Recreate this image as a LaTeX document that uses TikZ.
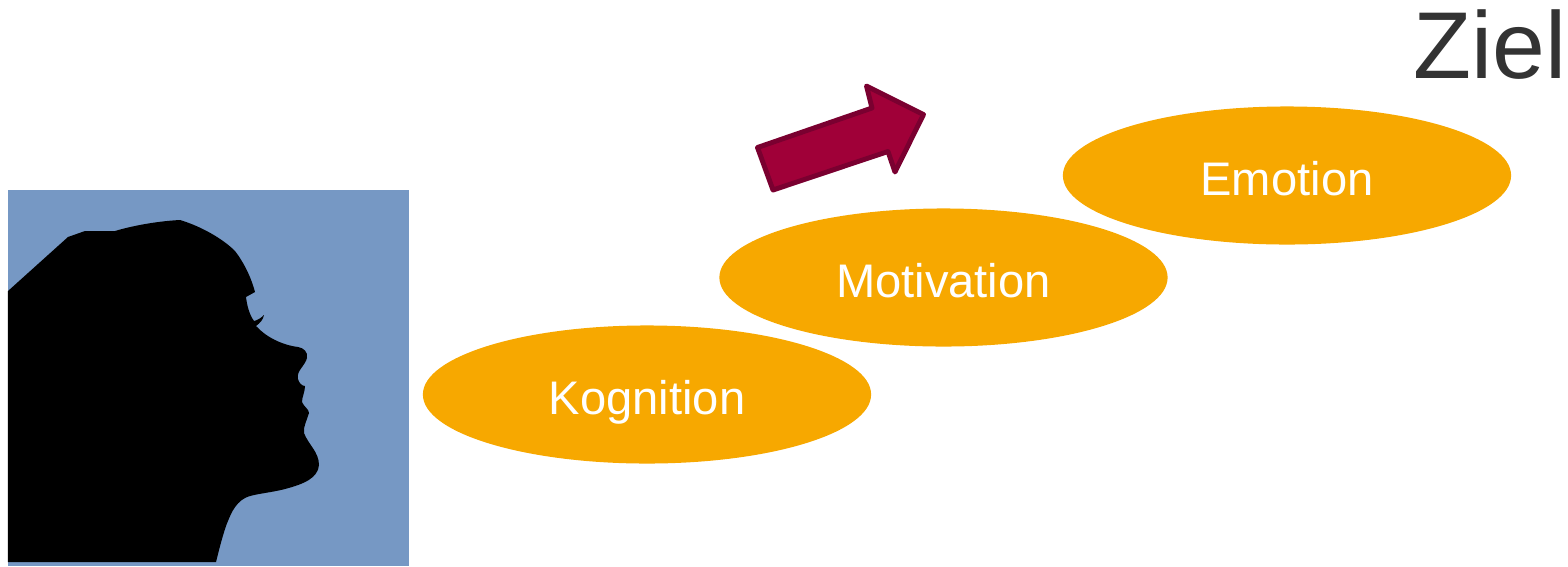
\documentclass[tikz,border=0pt]{standalone}
\usepackage{fontspec}
\usepackage{xcolor}
\usetikzlibrary{shapes.geometric}
\setmainfont{Liberation Sans}
\definecolor{headblue}{RGB}{118,152,196}
\definecolor{stepyellow}{RGB}{247,168,0}
\definecolor{arrowred}{RGB}{160,0,56}
\definecolor{arrowdark}{RGB}{122,0,48}
\definecolor{titlegray}{RGB}{51,51,51}
\tikzset{
	stepnode/.style={ellipse,fill=stepyellow,text=white,minimum width=4.48cm,minimum height=1.38cm,inner sep=0pt,text height=0.4cm,text depth=0pt,font=\fontsize{13.4pt}{16pt}\selectfont},
}

\begin{document}
\begin{tikzpicture}[x=0.01cm,y=-0.01cm]
	\useasboundingbox (0,0) rectangle (1568,566);
	% head
	\fill[headblue] (8,190) rectangle (409,566);
	\fill[black] (8,291) -- (68,237) -- (85,231) -- (115,231)
		.. controls (135,225) and (160,221) .. (180,220)
		.. controls (200,226) and (222,238) .. (235,251)
		.. controls (245,264) and (252,280) .. (255,292) -- (246,297)
		.. controls (247,305) and (249,314) .. (254,321)
		.. controls (258,320) and (261,318) .. (264,315)
		.. controls (263,320) and (260,323) .. (256,326)
		.. controls (266,337) and (282,345) .. (298,347)
		.. controls (304,348) and (308,352) .. (307,358)
		.. controls (305,366) and (296,371) .. (298,379)
		.. controls (299,383) and (302,386) .. (305,386)
		.. controls (305,392) and (302,397) .. (302,402)
		.. controls (304,407) and (309,409) .. (309,413)
		.. controls (307,420) and (303,427) .. (304,433)
		.. controls (308,444) and (319,452) .. (319,465)
		.. controls (318,478) and (304,484) .. (285,489)
		.. controls (270,493) and (252,494) .. (245,498)
		.. controls (234,504) and (230,516) .. (226,526)
		.. controls (222,538) and (219,550) .. (216,562) -- (8,562) -- cycle;
	% steps
	\node[stepnode] (kognition) at (647,394.5) {Kognition};
	\node[stepnode] (motivation) at (943.5,277.5) {Motivation};
	\node[stepnode] (emotion) at (1287,175.5) {Emotion};
	% arrow
	\draw[line width=1.4pt,line join=round,draw=arrowdark,fill=arrowred] (757.5,147.5) -- (872,108) -- (866.5,86) -- (923.5,114.5) -- (895,172) -- (888,151.5) -- (773,190) -- cycle;
	% title
	\node[text=titlegray,font=\fontsize{27pt}{32pt}\selectfont,anchor=base east,inner sep=0pt] (ziel) at (1567,78) {Ziel};
\end{tikzpicture}
\end{document}
